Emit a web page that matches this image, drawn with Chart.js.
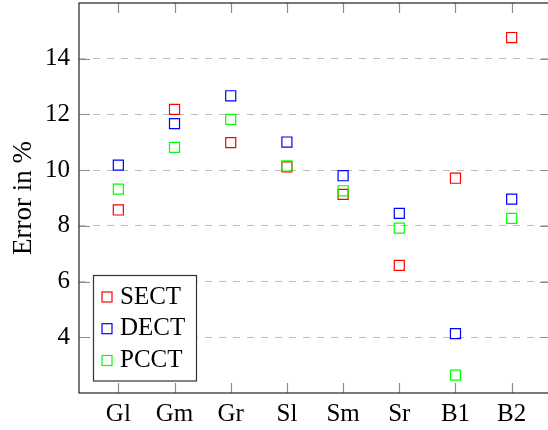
<!DOCTYPE html>
<html>
<head>
<meta charset="utf-8">
<script src="https://cdn.jsdelivr.net/npm/chart.js@4"></script>
<style>
  html, body { margin: 0; padding: 0; background: #fff; overflow: hidden; }
  canvas { display: block; }
</style>
</head>
<body>
<canvas id="errorChart" width="552" height="430"></canvas>
<script>
const categories = ['Gl', 'Gm', 'Gr', 'Sl', 'Sm', 'Sr', 'B1', 'B2'];
const sect = [8.57, 12.18, 10.99, 10.12, 9.13, 6.58, 9.71, 14.76];
const dect = [10.18, 11.67, 12.67, 11.01, 9.80, 8.45, 4.13, 8.96];
const pcct = [9.32, 10.82, 11.82, 10.15, 9.26, 7.92, 2.64, 8.27];
const y_ticks = [4, 6, 8, 10, 12, 14];

const FONT = "'Liberation Serif', 'Times New Roman', serif";

function points(values) {
  return values.map((v, i) => ({ x: i, y: v }));
}

function series(label, values, color, order) {
  return {
    label: label,
    data: points(values),
    borderColor: color,
    backgroundColor: 'rgba(0,0,0,0)',
    pointStyle: 'rect',
    pointRadius: 7.1,
    pointHoverRadius: 7.1,
    pointBorderWidth: 1.2,
    showLine: false,
    order: order
  };
}

// inward ticks, frame, legend box (pgfplots look)
const frame_plugin = {
  id: 'frame',
  afterDraw(chart) {
    const ctx = chart.ctx;
    const area = chart.chartArea;
    const sx = chart.scales.x;
    const sy = chart.scales.y;
    ctx.save();

    ctx.strokeStyle = '#8c8c8c';
    ctx.lineWidth = 1.2;
    ctx.beginPath();
    categories.forEach((c, i) => {
      const px = Math.round(sx.getPixelForValue(i)) + 0.5;
      ctx.moveTo(px, area.bottom);
      ctx.lineTo(px, area.bottom - 10);
      ctx.moveTo(px, area.top);
      ctx.lineTo(px, area.top + 10);
    });
    y_ticks.forEach((t) => {
      const py = Math.round(sy.getPixelForValue(t)) + 0.5;
      ctx.moveTo(area.left, py);
      ctx.lineTo(area.left + 11, py);
      ctx.moveTo(area.right, py);
      ctx.lineTo(area.right - 11, py);
    });
    ctx.stroke();

    ctx.strokeStyle = '#333';
    ctx.lineWidth = 1.3;
    ctx.strokeRect(area.left, area.top, area.right - area.left, area.bottom - area.top);

    // legend
    const lx = 93.5, ly = 275.5, lw = 103, lh = 105.5;
    ctx.fillStyle = '#fff';
    ctx.fillRect(lx, ly, lw, lh);
    ctx.strokeStyle = '#333';
    ctx.lineWidth = 1.2;
    ctx.strokeRect(lx, ly, lw, lh);
    ctx.font = '25px ' + FONT;
    ctx.textAlign = 'left';
    ctx.textBaseline = 'alphabetic';
    const rows = [297, 328.7, 360.5];
    chart.data.datasets.forEach((ds, i) => {
      const cy = rows[i];
      ctx.strokeStyle = ds.borderColor;
      ctx.lineWidth = 1.2;
      ctx.strokeRect(102, cy - 5, 10, 10);
      ctx.fillStyle = '#000';
      ctx.fillText(ds.label, 120, cy + 6.5);
    });

    ctx.restore();
  }
};

const chart_data = {
  datasets: [
    series('SECT', sect, '#ff0000', 2),
    series('DECT', dect, '#0000ff', 1),
    series('PCCT', pcct, '#00ff00', 0)
  ]
};

const chart_config = {
  type: 'scatter',
  data: chart_data,
  options: {
    responsive: false,
    animation: false,
    layout: { autoPadding: false, padding: { top: 3, right: 1, bottom: 0, left: 0 } },
    plugins: {
      legend: { display: false },
      tooltip: { enabled: false }
    },
    scales: {
      x: {
        type: 'linear',
        min: -0.7,
        max: 7.7,
        afterFit: (s) => {
          s.height = 37;
          s.paddingLeft = 0;
          s.paddingRight = 0;
        },
        afterBuildTicks: (s) => { s.ticks = categories.map((c, i) => ({ value: i })); },
        grid: { display: false, drawTicks: false },
        border: { display: false },
        ticks: {
          padding: 6,
          color: '#000',
          font: { family: FONT, size: 25 },
          callback: (v) => categories[v]
        }
      },
      y: {
        min: 2,
        max: 16,
        afterFit: (s) => {
          s.width = 79;
          s.paddingTop = 0;
          s.paddingBottom = 0;
        },
        afterBuildTicks: (s) => { s.ticks = y_ticks.map((t) => ({ value: t })); },
        grid: { color: '#bdbdbd', lineWidth: 1, drawTicks: false },
        border: { display: false, dash: [7, 7] },
        ticks: {
          padding: 9,
          color: '#000',
          font: { family: FONT, size: 25 }
        },
        title: {
          display: true,
          text: 'Error in %',
          color: '#000',
          font: { family: FONT, size: 27 },
          padding: { top: 8, bottom: 4 }
        }
      }
    }
  },
  plugins: [frame_plugin]
};

const errorChart = new Chart(document.getElementById('errorChart'), chart_config);
</script>
</body>
</html>
